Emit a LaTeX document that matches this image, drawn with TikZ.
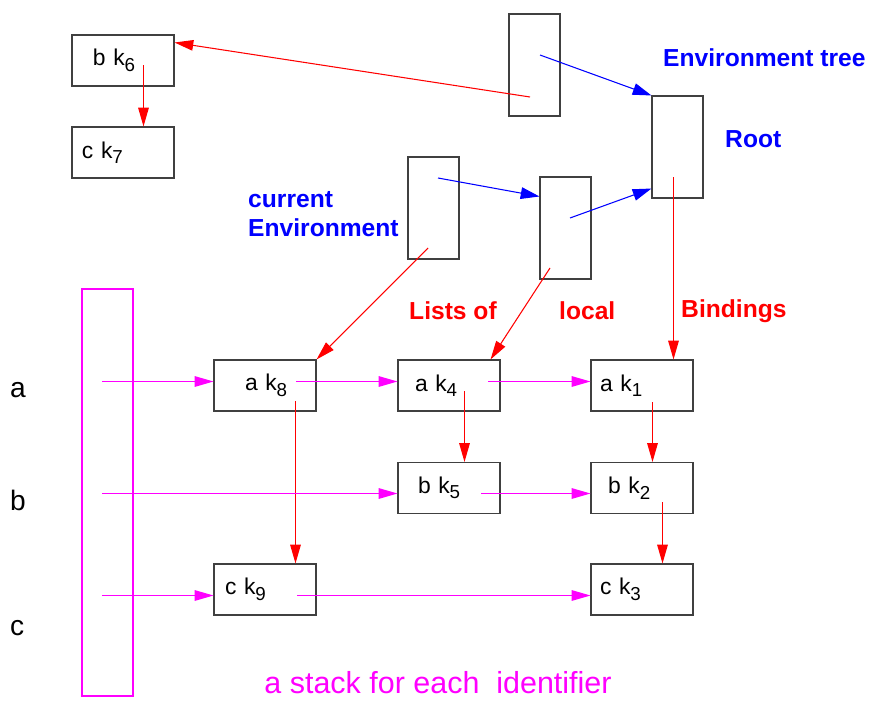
\documentclass[tikz,border=0pt]{standalone}
\usepackage{fontspec}
\setmainfont{Liberation Sans}
\usetikzlibrary{arrows.meta}
\definecolor{stackpink}{RGB}{255,0,255}
\definecolor{envblue}{RGB}{0,0,255}
\definecolor{bindred}{RGB}{255,0,0}
\newcommand{\kid}[1]{k\raisebox{-0.45ex}{\fontsize{16}{16}\selectfont #1}}

\begin{document}
\begin{tikzpicture}
    [x=0.03cm,y=-0.03cm,
     every node/.style={font=\fontsize{19.5}{22}\selectfont},
     bind/.style={rectangle,draw=black!75,line width=0.9pt,minimum height=1.53cm,text width=3.06cm,inner xsep=0pt,align=left},
     env/.style={rectangle,draw=black!75,line width=0.9pt,minimum width=1.53cm,minimum height=3.06cm,inner sep=0pt},
     lbl/.style={font=\fontsize{21}{25}\selectfont\bfseries,anchor=west,inner sep=0pt},
     redarrow/.style={draw=bindred,line width=0.9pt,-{Triangle[length=16pt,width=9pt]}},
     bluearrow/.style={draw=envblue,line width=0.9pt,-{Triangle[length=16pt,width=10pt]}},
     pinkarrow/.style={draw=stackpink,line width=0.9pt,-{Triangle[length=16pt,width=9pt]}}]
    \useasboundingbox (0,0) rectangle (870,700);

    % environment tree
    \node[env] (e1) at (534.5,65) {};
    \node[env] (root) at (677.5,147) {};
    \node[env] (cur) at (433.5,208) {};
    \node[env] (e2) at (565.5,228) {};

    % bindings
    \node[bind] (k6) at (123,60.5) {\hspace*{0.63cm}b \kid{6}};
    \node[bind] (k7) at (123,152.5) {\hspace*{0.3cm}c \kid{7}};
    \node[bind] (k8) at (265,385.5) {\hspace*{0.93cm}a \kid{8}};
    \node[bind] (k4) at (449,385.5) {\hspace*{0.51cm}a \kid{4}};
    \node[bind] (k1) at (642,385.5) {\hspace*{0.27cm}a \kid{1}};
    \node[bind] (k5) at (449,488) {\hspace*{0.6cm}b \kid{5}};
    \node[bind] (k2) at (642,488) {\hspace*{0.51cm}b \kid{2}};
    \node[bind] (k9) at (265,589.5) {\hspace*{0.33cm}c \kid{9}};
    \node[bind] (k3) at (642,589.5) {\hspace*{0.27cm}c \kid{3}};

    % stack
    \node[rectangle,draw=stackpink,line width=0.9pt,minimum width=1.53cm,minimum height=12.21cm] (stack) at (107.5,492.5) {};

    % labels
    \node[lbl,text=envblue] (tree) at (663,58) {Environment tree};
    \node[lbl,text=envblue] (rootlbl) at (725,139) {Root};
    \node[lbl,text=envblue,align=left] (curlbl) at (248,214) {current\\Environment};
    \node[lbl,text=bindred] (lists) at (409,311) {Lists of};
    \node[lbl,text=bindred] (local) at (559,311) {local};
    \node[lbl,text=bindred] (binds) at (681,311) {Bindings};
    \node[anchor=west,inner sep=0pt,font=\fontsize{24}{24}\selectfont] (ida) at (10,390) {a};
    \node[anchor=west,inner sep=0pt,font=\fontsize{24}{24}\selectfont] (idb) at (10,500) {b};
    \node[anchor=west,inner sep=0pt,font=\fontsize{24}{24}\selectfont] (idc) at (10,628) {c};
    \node[anchor=base,inner sep=0pt,text=stackpink,font=\fontsize{26}{26}\selectfont] (stacklbl) at (438,693) {a stack for each \ identifier};

    % pointer cells
    \coordinate (e1r) at (530,97);
    \coordinate (e1b) at (540,55);
    \coordinate (curb) at (438,178);
    \coordinate (curr) at (428,248);
    \coordinate (e2b) at (570,218);
    \coordinate (e2r) at (550,268);
    \coordinate (rootr) at (673.5,177);
    \coordinate (k6d) at (143.5,65);
    \coordinate (k8d) at (295.5,401);
    \coordinate (k8r) at (296,381.5);
    \coordinate (k4d) at (464.5,391);
    \coordinate (k4r) at (488,381.5);
    \coordinate (k1d) at (652.5,402);
    \coordinate (k5r) at (481,493.5);
    \coordinate (k2d) at (662.5,502);
    \coordinate (k9r) at (297,595.5);
    \coordinate (sa) at (102,381.5);
    \coordinate (sb) at (102,493.5);
    \coordinate (sc) at (102,595.5);

    \draw[bluearrow] (e1b) -- (root.north west);
    \draw[bluearrow] (curb) -- ([shift={(0,20)}]e2.north west);
    \draw[bluearrow] (e2b) -- ([shift={(0,-10)}]root.south west);

    \draw[redarrow] (e1r) -- ([shift={(0,-18)}]k6.east);
    \draw[redarrow] (k6d) -- (k6d |- k7.north);
    \draw[redarrow] (curr) -- (k8.north east);
    \draw[redarrow] (e2r) -- ([shift={(-10,0)}]k4.north east);
    \draw[redarrow] (rootr) -- (rootr |- k1.north);
    \draw[redarrow] (k8d) -- (k8d |- k9.north);
    \draw[redarrow] (k4d) -- (k4d |- k5.north);
    \draw[redarrow] (k1d) -- (k1d |- k2.north);
    \draw[redarrow] (k2d) -- (k2d |- k3.north);

    \draw[pinkarrow] (sa) -- (sa -| k8.west);
    \draw[pinkarrow] (k8r) -- (k8r -| k4.west);
    \draw[pinkarrow] (k4r) -- (k4r -| k1.west);
    \draw[pinkarrow] (sb) -- (sb -| k5.west);
    \draw[pinkarrow] (k5r) -- (k5r -| k2.west);
    \draw[pinkarrow] (sc) -- (sc -| k9.west);
    \draw[pinkarrow] (k9r) -- (k9r -| k3.west);
  \end{tikzpicture}
\end{document}
